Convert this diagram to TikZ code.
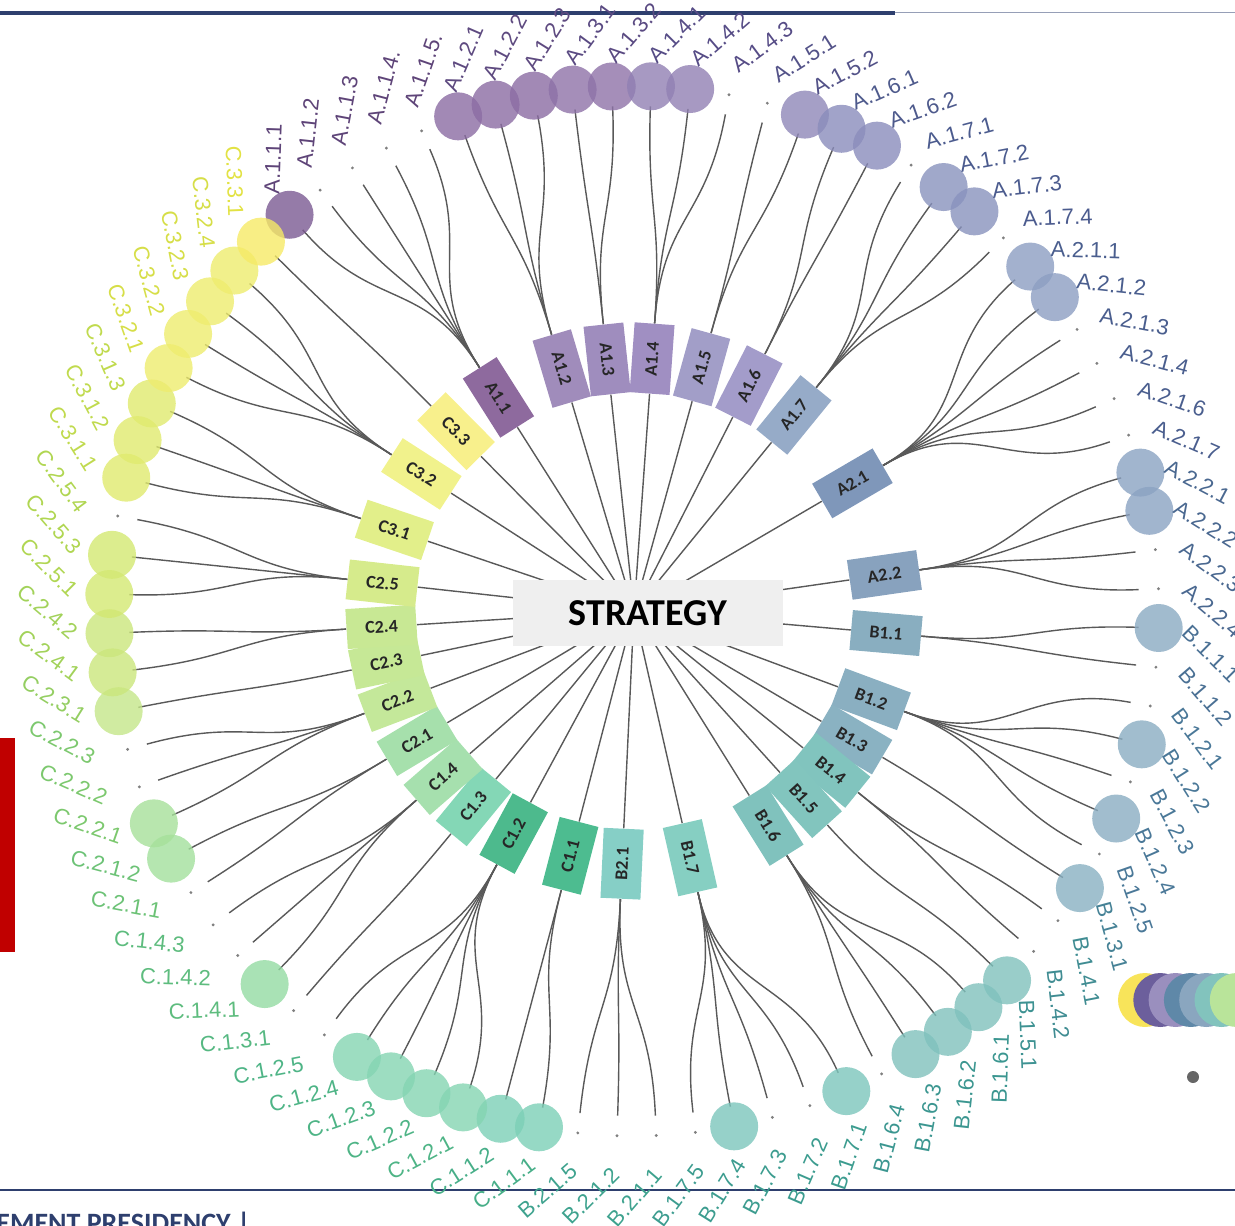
\documentclass[tikz,border=0pt]{standalone}
\usepackage{fontspec}
\setmainfont{Liberation Sans}
\newfontfamily\calibfont{Carlito}
\usepackage{tikz}
\usetikzlibrary{backgrounds}

\definecolor{navyline}{HTML}{2E3F6E}
\definecolor{stratgrey}{HTML}{EFEFEF}
\definecolor{redbar}{HTML}{C00000}

\tikzset{
	midbox/.style={minimum width=35pt, minimum height=20pt, inner sep=1pt, font=\calibfont\bfseries\fontsize{9}{9}\selectfont, text=black!85},
	leafball/.style={circle, minimum size=24pt, inner sep=0pt, fill opacity=0.8},
	leafpin/.style={circle, minimum size=1.6pt, inner sep=0pt, fill=black!50},
	leaflabel/.style={inner sep=0pt, font=\fontsize{11}{11}\selectfont},
	link/.style={draw=black!65, line width=0.7pt},
}

\begin{document}
\begin{tikzpicture}[x=0.5pt, y=0.5pt]
	\useasboundingbox (-634,-614) rectangle (601,611);
	\draw[navyline, line width=2pt] (-634,598) -- (261,598);
	\draw[navyline!50, line width=0.5pt] (261,598) -- (601,598);
	\draw[navyline, line width=0.6pt] (-634,-579) -- (601,-579);
	\node[anchor=base west, inner sep=0pt, text=navyline, font=\calibfont\bfseries\fontsize{14}{14}\selectfont] (footer) at (-638,-621) {EMENT PRESIDENCY |};
	\fill[redbar] (-634,-127) rectangle (-619,-341);
	\foreach \c [count=\n from 0] in {F8E45A,6C5F9C,9A8FBE,5F88A8,8AA6BF,82C3BD,B9E49A} {
		\definecolor{lg}{HTML}{\c}
		\fill[lg] (511+15.3*\n,-389) circle[radius=27];
	}
	\fill[black!60] (559,-466) circle[radius=6];

	\coordinate (hub) at (0,0);
	\node[fill=stratgrey, minimum width=135pt, minimum height=33pt, font=\calibfont\bfseries\fontsize{19}{19}\selectfont] (strat) at (14,-2) {STRATEGY};

	\foreach \nm/\ang/\first/\rc/\cc/\tc/\lst [count=\m, evaluate={\oa=int(cos(\ang)>=0 ? 0 : 180); \ia=int(180-\oa)}] in {
		A1.1/122.4/0/8E6A9E/7B5A92/5E4478/{A.1.1.1/1,A.1.1.2/0,A.1.1.3/0,A.1.1.4./0,A.1.1.5./0},
		A1.2/106.6/5/A08CBB/8B6CA3/5E4A80/{A.1.2.1/1,A.1.2.2/1,A.1.2.3/1},
		A1.3/96.1/8/9F8DBE/8E72A8/5A4A82/{A.1.3.1/1,A.1.3.2/1},
		A1.4/85.9/10/A08FC2/9180B3/564C86/{A.1.4.1/1,A.1.4.2/1,A.1.4.3/0},
		A1.5/74.5/13/A29EC8/8F87B8/535288/{A.1.5.1/0,A.1.5.2/1},
		A1.6/63/15/A39CCA/8A8CBB/4E5A8C/{A.1.6.1/1,A.1.6.2/1},
		A1.7/50.8/17/96ABC8/8892BD/4B5B8E/{A.1.7.1/0,A.1.7.2/1,A.1.7.3/1,A.1.7.4/0},
		A2.1/30.3/21/7F97BA/8C9EC2/4A5E8E/{A.2.1.1/1,A.2.1.2/1,A.2.1.3/0,A.2.1.4/0,A.2.1.6/0,A.2.1.7/0},
		A2.2/8.2/27/88A2BE/8AA2C2/4A6890/{A.2.2.1/1,A.2.2.2/1,A.2.2.3/0,A.2.2.4/0},
		B1.1/-5/31/89AEC0/8AAAC2/4A7094/{B.1.1.1/1,B.1.1.2/0},
		B1.2/-20.4/33/8AAFC1/8AADC2/4A7898/{B.1.2.1/0,B.1.2.2/1,B.1.2.3/0,B.1.2.4/1,B.1.2.5/0},
		B1.3/-30.5/38/8AB2C2/88B0C2/468296/{B.1.3.1/1},
		B1.4/-39/39/81C4BE/80BFBC/3F8C92/{B.1.4.1/0,B.1.4.2/0},
		B1.5/-47.9/41/82C5BE/7FC1BC/3D9292/{B.1.5.1/1},
		B1.6/-58/42/80C2BD/7FC1BC/3B9690/{B.1.6.1/1,B.1.6.2/1,B.1.6.3/1,B.1.6.4/0},
		B1.7/-77.2/46/86CFC2/7CC6BC/3C9C8F/{B.1.7.1/1,B.1.7.2/0,B.1.7.3/0,B.1.7.4/1,B.1.7.5/0},
		B2.1/-92.7/51/86CFC6/7CC6BC/3EA28E/{B.2.1.1/0,B.2.1.2/0,B.2.1.5/0},
		C1.1/-104.6/54/4DBC90/7CCFB6/47AE88/{C.1.1.1/1,C.1.1.2/1},
		C1.2/-118.4/56/4DBA8D/84D4B2/4EB486/{C.1.2.1/1,C.1.2.2/1,C.1.2.3/1,C.1.2.4/1,C.1.2.5/0},
		C1.3/-129.4/61/84D7B6/8AD6AE/56B882/{C.1.3.1/0},
		C1.4/-139/62/A6E0AE/93DBA2/5EBC7E/{C.1.4.1/1,C.1.4.2/0,C.1.4.3/0},
		C2.1/-149.1/65/A6E0AC/A2E09C/6CC276/{C.2.1.1/0,C.2.1.2/1},
		C2.2/-159.2/67/C4E89A/A6E09A/7CC86E/{C.2.2.1/1,C.2.2.2/0,C.2.2.3/0},
		C2.3/-168.2/70/C6E896/C4E689/94CE62/{C.2.3.1/1},
		C2.4/-176.4/71/C8E894/CBE67C/A2D25A/{C.2.4.1/1,C.2.4.2/1},
		C2.5/173.7/73/D6EB8C/D3E872/B0D652/{C.2.5.1/1,C.2.5.3/1,C.2.5.4/0},
		C3.1/161.3/76/E2EF8A/E0EA6E/C0DA4E/{C.3.1.1/1,C.3.1.2/1,C.3.1.3/1},
		C3.2/147.2/79/F1F28C/EEEC6E/D6DE48/{C.3.2.1/1,C.3.2.2/1,C.3.2.3/1,C.3.2.4/1},
		C3.3/134.7/83/F8F08C/F6EA66/E2E244/{C.3.3.1/1}} {
		\definecolor{rc}{HTML}{\rc}
		\definecolor{cc}{HTML}{\cc}
		\definecolor{tc}{HTML}{\tc}
		\node[midbox, fill=rc, rotate=\ang+\oa] (mid\m) at (\ang:253) {\nm};
		\begin{scope}[on background layer]
			\draw[link] (hub) -- (mid\m.\ia);
		\end{scope}
		\foreach \lbl/\ball [count=\j from 0] in \lst {
			\pgfmathtruncatemacro\idx{\first+\j}
			\pgfmathsetmacro\la{131-4.2857*\idx}
			\pgfmathtruncatemacro\lf{cos(\la-43)>=0 ? 0 : 180}
			\pgfmathtruncatemacro\lanc{180-\lf}
			\pgfmathsetmacro\lr{552+\lf/22.5}
			\coordinate (leaf\idx) at (\la:505);
			\ifnum\ball=1
				\node[leafball, fill=cc] (ball\idx) at (\la:525) {};
			\else
				\node[leafpin] (ball\idx) at (\la:525) {};
			\fi
			\node[leaflabel, text=tc, rotate=\la-43+\lf, anchor=\lanc] (lab\idx) at (\la:\lr) {\lbl};
			\begin{scope}[on background layer]
				\draw[link] (mid\m.\oa) .. controls (\ang:396) and (\la:396) .. (leaf\idx);
			\end{scope}
		}
	}
\end{tikzpicture}
\end{document}
